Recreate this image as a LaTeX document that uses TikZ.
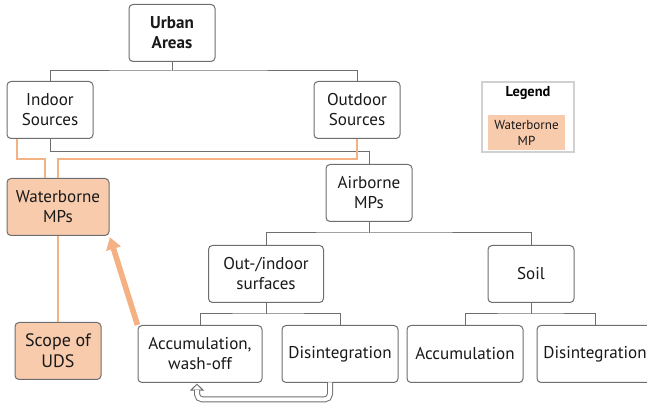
\documentclass[tikz,border=0pt]{standalone}
\usepackage{fontspec}
\setmainfont{PT Sans}
\usetikzlibrary{arrows.meta}

\definecolor{wfill}{HTML}{F8CBAD}
\definecolor{wline}{HTML}{F4B183}
\definecolor{bline}{HTML}{6E6E6E}

\tikzset{every picture/.style={line width=0.75pt}}
\tikzset{
  box/.style={draw=bline, rounded corners=3pt, fill=white, align=center, text=black!90,
    minimum width=64.5pt, minimum height=42.75pt, inner sep=1pt,
    font=\fontsize{12.8pt}{15pt}\selectfont},
  wbox/.style={box, fill=wfill},
  link/.style={draw=bline, line width=0.75pt},
  wlink/.style={draw=wline, line width=1.5pt},
  warrow/.style={draw=wline, line width=4.2pt, -{Triangle[length=9pt,width=11pt]}},
  loopback/.style={draw=bline, double=white, double distance=3pt, line width=0.75pt, rounded corners=4pt},
  loophead/.style={draw=bline, line width=0.75pt, -{Triangle[open,fill=white,length=5.25pt,width=10.5pt]}},
  legframe/.style={draw=black!18, line width=1.2pt, minimum width=69pt, minimum height=52.5pt},
  legkey/.style={fill=wfill, minimum width=57.75pt, minimum height=26.25pt, inner sep=0pt, align=center,
    text=black!90, font=\fontsize{9.8pt}{12pt}\selectfont},
}

\begin{document}
\begin{tikzpicture}[x=0.75pt,y=0.75pt,yscale=-1,xscale=1]
\clip (0,0) rectangle (647,406);

% Nodes
\node[box, font=\fontsize{12.8pt}{15pt}\selectfont\bfseries] (urban) at (172,33) {Urban\\Areas};
\node[box] (indoor) at (50,110) {Indoor\\Sources};
\node[box] (outdoor) at (357,110) {Outdoor\\Sources};
\node[box] (airborne) at (369,193) {Airborne\\MPs};
\node[wbox, minimum width=76.5pt] (water) at (58,207) {Waterborne\\MPs};
\node[wbox, font=\fontsize{13.5pt}{15.5pt}\selectfont] (scope) at (58,351) {Scope of\\UDS};
\node[box, minimum width=86.25pt] (surf) at (266,274) {Out-/indoor\\surfaces};
\node[box] (soil) at (531,274) {Soil};
\node[box, minimum width=93pt] (accwash) at (200,354) {Accumulation,\\wash-off};
\node[box, minimum width=87pt] (disintA) at (340,354) {Disintegration};
\node[box, minimum width=87pt] (accum) at (465,354) {Accumulation};
\node[box, minimum width=87pt] (disintB) at (595,354) {Disintegration};

% Legend
\node[legframe] (legend) at (528,117) {};
\node[font=\fontsize{10.8pt}{12pt}\selectfont\bfseries] (legtitle) at (528,93) {Legend};
\node[legkey] (legkey) at (526.5,132.5) {Waterborne\\MP};

% Tree connectors
\coordinate (j1) at (172,71);
\draw[link] (urban.south) -- (j1);
\draw[link] (indoor.north) |- (j1) -| (outdoor.north);
\draw[link] (indoor.south) -- ++(0,13) -| (airborne.north);
\coordinate (j2) at (369,233);
\draw[link] (airborne.south) -- (j2);
\draw[link] (surf.north) |- (j2) -| (soil.north);
\coordinate (j3) at (266,314);
\draw[link] (surf.south) -- (j3);
\draw[link] (accwash.north) |- (j3) -| (disintA.north);
\coordinate (j4) at (531,314);
\draw[link] (soil.south) -- (j4);
\draw[link] (accum.north) |- (j4) -| (disintB.north);

% Waterborne paths
\draw[wlink] ([xshift=7.5pt]indoor.south west) -- ++(0,20) -| ([xshift=-9.75pt]water.north);
\draw[wlink] (outdoor.south) -- ++(0,20) -| (water.north);
\draw[wlink] (water.south) -- (scope.north);
\draw[warrow, shorten >=1pt] (accwash.north west) -- (water.south east);

% Loop back (hollow arrow), yshift runs downwards here
\draw[loophead] ([xshift=-2.25pt,yshift=9pt]accwash.south) -- ([xshift=-2.25pt,yshift=0.4pt]accwash.south);
\draw[loopback] ([xshift=-7.5pt,yshift=-0.4pt]disintA.south) -- ++(0,17) -| ([xshift=-2.25pt,yshift=5.2pt]accwash.south);

\end{tikzpicture}
\end{document}
